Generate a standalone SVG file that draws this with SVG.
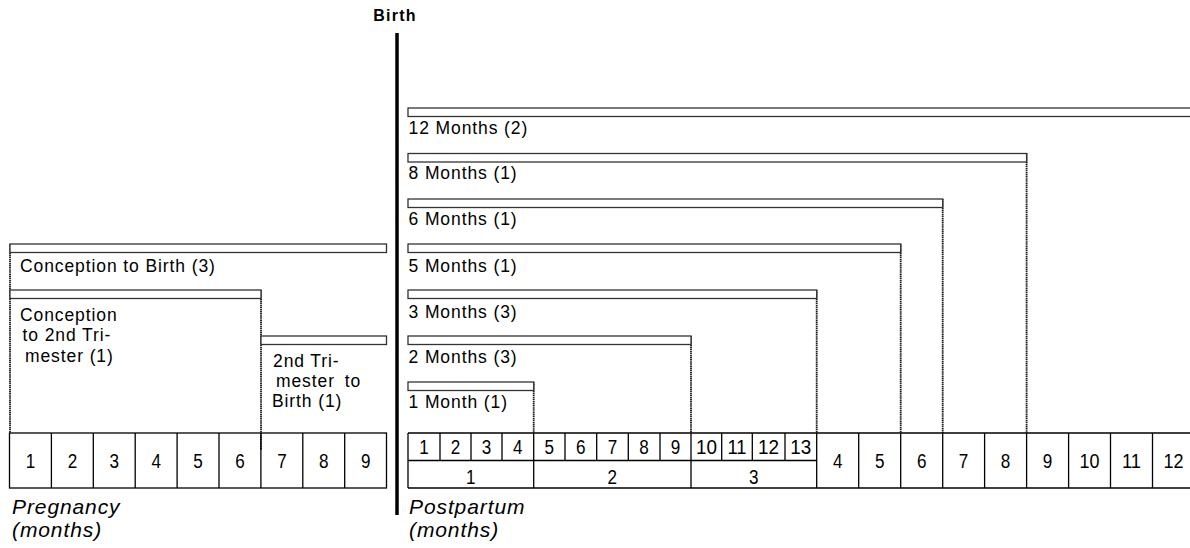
<svg xmlns="http://www.w3.org/2000/svg" width="1190" height="548" viewBox="0 0 1190 548">
<style>
.bar{fill:#fff;stroke:#333;stroke-width:1.3}
.lbl{font-family:"Liberation Sans",Arial,sans-serif;font-size:17.5px;letter-spacing:0.9px;fill:#000}
.ax{font-family:"Liberation Sans",Arial,sans-serif;font-size:21px;font-style:italic;letter-spacing:0.9px;fill:#000}
.num{font-family:"Liberation Sans",Arial,sans-serif;font-size:20.5px;text-anchor:middle;fill:#000}
.cell{fill:none;stroke:#000;stroke-width:1.3}
.dot{fill:none;stroke:#1a1a1a;stroke-width:1.8;stroke-dasharray:1.5 0.6}
</style>
<rect width="1190" height="548" fill="#fff"/>

<g id="birth">
<text x="395" y="21" font-family="Liberation Sans,Arial,sans-serif" font-size="16" font-weight="bold" letter-spacing="1.2" text-anchor="middle">Birth</text>
<line x1="397" y1="33" x2="397" y2="515" stroke="#000" stroke-width="3.5"/>
</g>

<g id="connectors">
<line class="dot" x1="10" y1="244" x2="10" y2="433"/>
<line class="dot" x1="261" y1="290" x2="261" y2="450"/>
<line class="dot" x1="533.7" y1="382" x2="533.7" y2="433"/>
<line class="dot" x1="691" y1="336" x2="691" y2="433"/>
<line class="dot" x1="816.7" y1="290" x2="816.7" y2="433"/>
<line class="dot" x1="900.7" y1="244" x2="900.7" y2="433"/>
<line class="dot" x1="942.7" y1="199" x2="942.7" y2="433"/>
<line class="dot" x1="1026.6" y1="153" x2="1026.6" y2="433"/>
</g>

<g id="bar-conception-birth">
<rect class="bar" x="10" y="244" width="376.5" height="8.5"/>
<text class="lbl" x="20" y="271.5">Conception to Birth (3)</text>
</g>
<g id="bar-conception-2nd">
<rect class="bar" x="10" y="290" width="251" height="8.5"/>
<text class="lbl" x="20" y="320.5">Conception</text>
<text class="lbl" x="22.5" y="341">to 2nd Tri-</text>
<text class="lbl" x="25" y="361.5">mester (1)</text>
</g>
<g id="bar-2nd-birth">
<rect class="bar" x="261" y="336" width="125.5" height="8.5"/>
<text class="lbl" x="273" y="367">2nd Tri-</text>
<text class="lbl" x="276" y="387" word-spacing="4">mester to</text>
<text class="lbl" x="272" y="407">Birth (1)</text>
</g>

<g id="bar-12">
<rect class="bar" x="408" y="108" width="790" height="8.5"/>
<text class="lbl" x="408.5" y="133.5">12 Months (2)</text>
</g>
<g id="bar-8">
<rect class="bar" x="408" y="153.5" width="618.6" height="8.5"/>
<text class="lbl" x="408.5" y="179">8 Months (1)</text>
</g>
<g id="bar-6">
<rect class="bar" x="408" y="199" width="534.7" height="8.5"/>
<text class="lbl" x="408.5" y="225">6 Months (1)</text>
</g>
<g id="bar-5">
<rect class="bar" x="408" y="244" width="492.7" height="8.5"/>
<text class="lbl" x="408.5" y="271.5">5 Months (1)</text>
</g>
<g id="bar-3">
<rect class="bar" x="408" y="290" width="408.7" height="8.5"/>
<text class="lbl" x="408.5" y="317.5">3 Months (3)</text>
</g>
<g id="bar-2">
<rect class="bar" x="408" y="336" width="283" height="8.5"/>
<text class="lbl" x="408.5" y="363">2 Months (3)</text>
</g>
<g id="bar-1">
<rect class="bar" x="408" y="382" width="125.7" height="8.5"/>
<text class="lbl" x="408.5" y="408">1 Month (1)</text>
</g>

<g id="pregnancy-table">
<rect class="cell" x="9.5" y="433" width="377" height="55"/>
<path class="cell" d="M51.4 433V488M93.3 433V488M135.2 433V488M177.1 433V488M219 433V488M260.9 433V488M302.8 433V488M344.7 433V488"/>
<text class="num" x="30.5" y="468" textLength="9.5" lengthAdjust="spacingAndGlyphs">1</text>
<text class="num" x="72.4" y="468" textLength="9.5" lengthAdjust="spacingAndGlyphs">2</text>
<text class="num" x="114.3" y="468" textLength="9.5" lengthAdjust="spacingAndGlyphs">3</text>
<text class="num" x="156.2" y="468" textLength="9.5" lengthAdjust="spacingAndGlyphs">4</text>
<text class="num" x="198.1" y="468" textLength="9.5" lengthAdjust="spacingAndGlyphs">5</text>
<text class="num" x="240" y="468" textLength="9.5" lengthAdjust="spacingAndGlyphs">6</text>
<text class="num" x="281.9" y="468" textLength="9.5" lengthAdjust="spacingAndGlyphs">7</text>
<text class="num" x="323.8" y="468" textLength="9.5" lengthAdjust="spacingAndGlyphs">8</text>
<text class="num" x="365.7" y="468" textLength="9.5" lengthAdjust="spacingAndGlyphs">9</text>
</g>
<g id="pregnancy-label">
<text class="ax" x="12" y="514">Pregnancy</text>
<text class="ax" x="12" y="537">(months)</text>
</g>

<g id="postpartum-table">
<path class="cell" d="M408 433H1196M408 488H1196M408 460.5H816.7M408 433V488M533.7 433V488M691 433V488M816.7 433V488M440 433V460.5M471 433V460.5M502 433V460.5M565 433V460.5M596.7 433V460.5M628.3 433V460.5M660 433V460.5M721.7 433V460.5M752.3 433V460.5M785 433V460.5M858.7 433V488M900.7 433V488M942.7 433V488M984.6 433V488M1026.6 433V488M1068.6 433V488M1110.5 433V488M1152.5 433V488"/>
<text class="num" x="424" y="454" textLength="9.5" lengthAdjust="spacingAndGlyphs">1</text>
<text class="num" x="455.5" y="454" textLength="9.5" lengthAdjust="spacingAndGlyphs">2</text>
<text class="num" x="486.5" y="454" textLength="9.5" lengthAdjust="spacingAndGlyphs">3</text>
<text class="num" x="517.8" y="454" textLength="9.5" lengthAdjust="spacingAndGlyphs">4</text>
<text class="num" x="549.3" y="454" textLength="9.5" lengthAdjust="spacingAndGlyphs">5</text>
<text class="num" x="580.8" y="454" textLength="9.5" lengthAdjust="spacingAndGlyphs">6</text>
<text class="num" x="612.5" y="454" textLength="9.5" lengthAdjust="spacingAndGlyphs">7</text>
<text class="num" x="644.1" y="454" textLength="9.5" lengthAdjust="spacingAndGlyphs">8</text>
<text class="num" x="675.5" y="454" textLength="9.5" lengthAdjust="spacingAndGlyphs">9</text>
<text class="num" x="706.5" y="454" textLength="21" lengthAdjust="spacingAndGlyphs">10</text>
<text class="num" x="737" y="454" textLength="19" lengthAdjust="spacingAndGlyphs">11</text>
<text class="num" x="768.6" y="454" textLength="21" lengthAdjust="spacingAndGlyphs">12</text>
<text class="num" x="800.8" y="454" textLength="21" lengthAdjust="spacingAndGlyphs">13</text>
<text class="num" x="470.8" y="484" textLength="9.5" lengthAdjust="spacingAndGlyphs">1</text>
<text class="num" x="612.3" y="484" textLength="9.5" lengthAdjust="spacingAndGlyphs">2</text>
<text class="num" x="753.8" y="484" textLength="9.5" lengthAdjust="spacingAndGlyphs">3</text>
<text class="num" x="837.7" y="468" textLength="9.5" lengthAdjust="spacingAndGlyphs">4</text>
<text class="num" x="879.7" y="468" textLength="9.5" lengthAdjust="spacingAndGlyphs">5</text>
<text class="num" x="921.7" y="468" textLength="9.5" lengthAdjust="spacingAndGlyphs">6</text>
<text class="num" x="963.6" y="468" textLength="9.5" lengthAdjust="spacingAndGlyphs">7</text>
<text class="num" x="1005.6" y="468" textLength="9.5" lengthAdjust="spacingAndGlyphs">8</text>
<text class="num" x="1047.6" y="468" textLength="9.5" lengthAdjust="spacingAndGlyphs">9</text>
<text class="num" x="1089.5" y="468" textLength="20" lengthAdjust="spacingAndGlyphs">10</text>
<text class="num" x="1131.5" y="468" textLength="19" lengthAdjust="spacingAndGlyphs">11</text>
<text class="num" x="1173.5" y="468" textLength="20" lengthAdjust="spacingAndGlyphs">12</text>
</g>
<g id="postpartum-label">
<text class="ax" x="409" y="514">Postpartum</text>
<text class="ax" x="409" y="537">(months)</text>
</g>
</svg>
